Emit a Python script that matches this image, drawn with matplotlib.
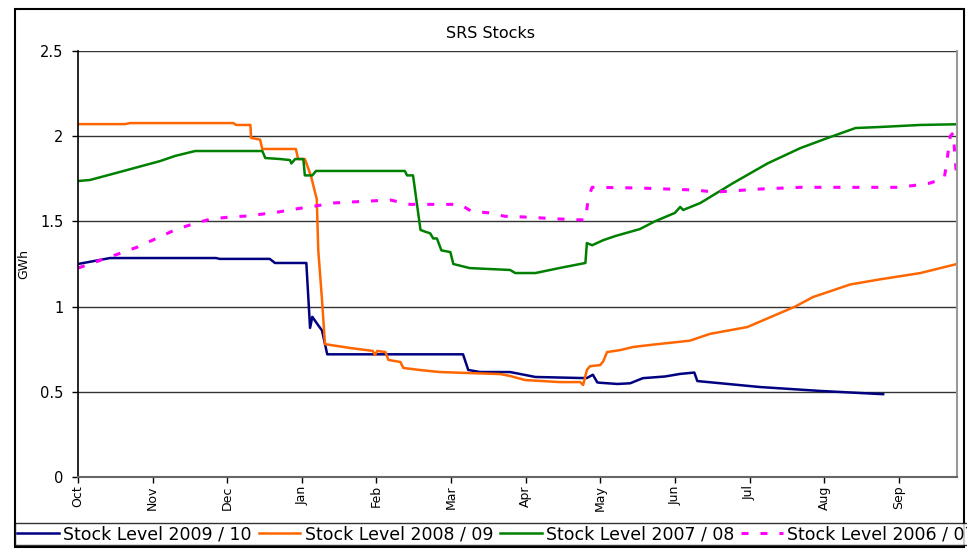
import matplotlib
matplotlib.use("Agg")
import matplotlib.pyplot as plt
from matplotlib.patches import Rectangle

plt.rcParams['font.family'] = ['DejaVu Sans']

# x positions in months since 1 Oct, y in GWh
months = ['Oct', 'Nov', 'Dec', 'Jan', 'Feb', 'Mar', 'Apr', 'May', 'Jun', 'Jul', 'Aug', 'Sep']

x_0910 = [0, 0.43, 1.85, 1.90, 2.57, 2.64, 3.06, 3.11, 3.14, 3.22, 3.27, 3.34, 5.16, 5.23, 5.39,
          5.79, 6.13, 6.73, 6.82, 6.90, 6.96, 7.00, 7.23, 7.40, 7.57, 7.87, 8.07, 8.26, 8.30,
          9.14, 9.95, 10.79]
y_0910 = [1.25, 1.285, 1.285, 1.28, 1.28, 1.256, 1.256, 0.875, 0.94, 0.89, 0.86, 0.72, 0.72,
          0.628, 0.616, 0.616, 0.587, 0.581, 0.581, 0.60, 0.555, 0.553, 0.546, 0.55, 0.58,
          0.59, 0.605, 0.613, 0.563, 0.528, 0.505, 0.486]

x_0809 = [0, 0.63, 0.70, 2.08, 2.12, 2.31, 2.32, 2.44, 2.47, 2.92, 2.95, 3.04, 3.12, 3.20,
          3.22, 3.27, 3.31, 3.38, 3.65, 3.95, 3.98, 4.01, 4.12, 4.16, 4.32, 4.36, 4.58, 4.85,
          5.25, 5.66, 5.79, 5.99, 6.46, 6.73, 6.77, 6.82, 6.86, 7.00, 7.04, 7.09, 7.27, 7.44,
          7.67, 8.20, 8.47, 8.97, 9.61, 9.85, 10.35, 10.75, 11.29, 11.78]
y_0809 = [2.071, 2.071, 2.077, 2.077, 2.066, 2.066, 1.99, 1.98, 1.925, 1.925, 1.866, 1.866,
          1.77, 1.63, 1.33, 1.04, 0.78, 0.775, 0.757, 0.74, 0.716, 0.74, 0.733, 0.687, 0.675,
          0.64, 0.628, 0.616, 0.61, 0.604, 0.593, 0.569, 0.557, 0.557, 0.54, 0.628, 0.65,
          0.657, 0.68, 0.733, 0.745, 0.763, 0.775, 0.8, 0.84, 0.88, 1.0, 1.056, 1.13, 1.16,
          1.197, 1.25]

x_0708 = [0, 0.16, 0.56, 1.10, 1.30, 1.57, 2.47, 2.51, 2.71, 2.84, 2.86, 2.91, 3.02, 3.04,
          3.14, 3.19, 3.38, 4.38, 4.41, 4.49, 4.59, 4.65, 4.72, 4.76, 4.81, 4.87, 4.99, 5.03,
          5.25, 5.79, 5.86, 6.13, 6.46, 6.80, 6.82, 6.89, 7.04, 7.20, 7.53, 7.73, 8.00, 8.07,
          8.11, 8.34, 8.78, 9.24, 9.68, 10.08, 10.42, 10.75, 11.29, 11.78]
y_0708 = [1.737, 1.743, 1.79, 1.854, 1.884, 1.913, 1.913, 1.872, 1.866, 1.86, 1.84, 1.866,
          1.866, 1.77, 1.77, 1.796, 1.796, 1.796, 1.77, 1.77, 1.45, 1.44, 1.43, 1.40, 1.40,
          1.33, 1.32, 1.25, 1.226, 1.215, 1.197, 1.197, 1.227, 1.256, 1.373, 1.36, 1.39,
          1.414, 1.455, 1.50, 1.55, 1.585, 1.567, 1.608, 1.725, 1.84, 1.93, 1.995, 2.048,
          2.054, 2.066, 2.07]

x_0607 = [0, 0.54, 0.80, 1.05, 1.30, 1.54, 1.78, 2.04, 2.28, 2.68, 2.92, 3.18, 3.42, 3.93,
          4.18, 4.45, 5.12, 5.27, 5.51, 5.72, 5.97, 6.22, 6.46, 6.80, 6.84, 6.89, 7.53, 8.27,
          8.54, 9.14, 9.68, 10.98, 11.19, 11.42, 11.61, 11.64, 11.69, 11.73, 11.76, 11.78]
y_0607 = [1.226, 1.309, 1.35, 1.40, 1.45, 1.485, 1.514, 1.526, 1.532, 1.555, 1.573, 1.59,
          1.608, 1.62, 1.626, 1.60, 1.60, 1.56, 1.55, 1.53, 1.526, 1.52, 1.514, 1.508, 1.64,
          1.70, 1.696, 1.684, 1.672, 1.69, 1.70, 1.70, 1.71, 1.725, 1.755, 1.84, 2.0, 2.02,
          1.84, 1.74]

W, H = 967, 549
fig = plt.figure(figsize=(W / 100, H / 100), dpi=100)
ax = fig.add_axes([78 / W, 1 - 477 / H, (957 - 78) / W, (477 - 51) / H])

ax.plot(x_0910, y_0910, color='#000080', lw=1.8, label='Stock Level 2009 / 10')
ax.plot(x_0809, y_0809, color='#FF6600', lw=1.8, label='Stock Level 2008 / 09')
ax.plot(x_0708, y_0708, color='#008000', lw=1.8, label='Stock Level 2007 / 08')
ax.plot(x_0607, y_0607, color='#FF00FF', lw=2.2, linestyle=(0, (2.3, 3.9)),
        label='Stock Level 2006 / 07')

ax.set_xlim(0, 11.78)
ax.set_ylim(0, 2.5)
ax.set_yticks([0, 0.5, 1, 1.5, 2, 2.5])
ax.set_yticklabels(['0', '0.5', '1', '1.5', '2', '2.5'])
ax.set_xticks(range(12))
ax.set_xticklabels(months, rotation=90)
ax.tick_params(axis='y', length=4.5, width=1, pad=6, labelsize=10.5, colors='black')
ax.tick_params(axis='x', length=4, width=1, pad=2, labelsize=9, colors='black')

ax.grid(axis='y', color='#333333', lw=1)
ax.set_axisbelow(True)
ax.spines['top'].set_visible(False)
ax.spines['left'].set_color('black')
ax.spines['left'].set_linewidth(1.2)
ax.spines['bottom'].set_color('#666666')
ax.spines['bottom'].set_linewidth(1.5)
ax.spines['right'].set_color('#999999')
ax.spines['right'].set_linewidth(1.5)

ax.set_ylabel('GWh', fontsize=9)
ax.yaxis.set_label_coords((30 - 78) / (957 - 78), 0.5)

fig.text(490 / W, 1 - 33 / H, 'SRS Stocks', ha='center', va='center', fontsize=11.5)

fig.patches.append(Rectangle((15 / W, 2 / H), (964 - 15) / W, (547 - 9) / H,
                             transform=fig.transFigure, fill=False, ec='black', lw=1.5))

leg = fig.legend(loc='upper left', bbox_to_anchor=(15 / W, 1 - 523 / H), ncol=4,
                 fontsize=12.5, frameon=True, fancybox=False, edgecolor='black',
                 handlelength=2.4, handletextpad=0.25, columnspacing=0.4,
                 borderpad=0.12, borderaxespad=0)
leg.get_frame().set_linewidth(1.0)

fig.savefig('out.png', dpi=100)
